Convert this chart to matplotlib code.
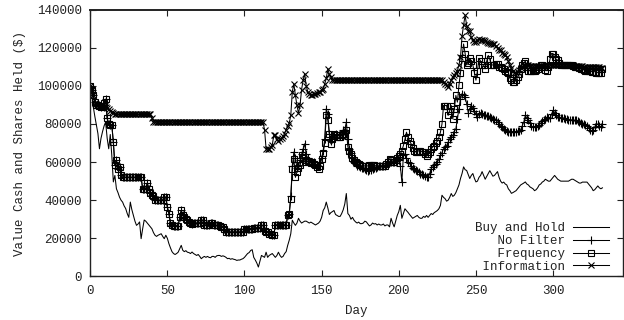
import numpy as np
import matplotlib
matplotlib.use("Agg")
import matplotlib.pyplot as plt

# Values in thousands of dollars, one per trading day (day 0 .. 332)
buy_and_hold = [
    100, 96, 89, 84, 79.5, 75, 67, 72.5, 76, 79,
    81, 72.5, 67, 74.5, 63.5, 49.6, 53, 46, 44, 41.6,
    40, 39, 37, 35.6, 33, 31, 39, 35, 32, 29,
    26.8, 27.5, 28.6, 19.8, 25, 29.6, 29, 28, 27, 26,
    25, 23, 21.6, 21, 21.6, 22, 22.4, 21, 19.8, 21.6,
    20, 17.2, 15, 13, 12, 11.5, 12, 12.7, 14.5, 16.3,
    13.7, 13, 13.5, 12.7, 12.5, 12, 12.8, 12, 11.5, 11,
    11.5, 10.5, 9.3, 10, 10.5, 10, 10.5, 10, 9.8, 10.5,
    10.5, 10, 10.8, 11, 11, 10.5, 10.8, 10.5, 10, 9.3,
    9.5, 9, 9.3, 9, 8.8, 8.4, 8.6, 8.6, 9, 9.3,
    10, 11, 12, 12.5, 13.6, 14, 10, 8.6, 7, 4.9,
    8, 11, 10.5, 10, 12.7, 10, 11, 11.5, 12, 11,
    10, 11, 12.7, 11, 10, 10.5, 12, 13, 16.3, 19,
    22.4, 29.5, 28, 26.8, 28, 30.5, 29, 28, 28.5, 29,
    29, 28.5, 28, 28.5, 28, 27.5, 27, 27.5, 28, 29,
    31, 34.6, 36, 39, 36, 32.5, 33.5, 34, 34.6, 32.5,
    32, 31.5, 31.5, 33, 35, 38, 43.5, 33, 32, 30,
    31, 29.5, 28.6, 28, 28.5, 27.7, 27.7, 28, 29, 28.6,
    27.5, 26.5, 27, 28, 27.5, 27.7, 27, 27.5, 27, 27,
    27.5, 26.5, 27, 27, 26, 30.5, 28, 26, 29, 32,
    34, 37.3, 30.5, 33, 35.5, 34.5, 33.6, 32.5, 31.5, 30.5,
    31, 31.5, 32, 31, 30.5, 30.5, 31.5, 31, 32, 31,
    32, 33, 32.5, 33.5, 34, 34.6, 35.5, 37.3, 42.6, 41.5,
    40.8, 39.5, 40, 41.5, 43.5, 42, 42.6, 44, 46, 48,
    51.4, 54, 57.5, 56, 55.6, 53.5, 51.4, 53, 54, 51.5,
    49.6, 50, 52, 53, 55, 53, 51, 52.5, 54, 55.5,
    54, 52.6, 53, 54, 55, 52, 50, 49, 49.5, 48.5,
    48, 46, 45, 43.6, 44, 44.5, 45, 46, 47, 48,
    48.5, 49, 49.6, 48.5, 48, 47, 46.5, 46, 45, 45.5,
    46.5, 48, 48.5, 49.5, 50, 51, 50.5, 50, 50, 51,
    52, 53, 52, 51, 50.5, 50, 50, 50, 50, 50,
    50, 50.5, 51, 51, 50.5, 50, 49.5, 49, 49, 49.5,
    49.5, 49.5, 49.5, 48.5, 47.5, 46.5, 45, 45.5, 46.5, 47.5,
    46.5, 46, 46.5,
]

no_filter = [
    100, 98, 95, 91.5, 90, 90, 89.5, 89, 89.5, 91,
    93, 83, 80, 79.5, 79.5, 70.5, 58.3, 61, 56.5, 57.5,
    53, 52, 52, 52, 52, 52, 52, 52, 52, 52,
    52, 52, 52, 52, 46, 46, 46, 49, 46, 44,
    42.5, 42, 40, 40, 40, 40, 40, 40, 41.6, 41.6,
    36.4, 33, 28, 26.8, 26.5, 26.5, 26.5, 26.5, 31, 34.6,
    32, 31, 30, 29.5, 28.5, 28, 27.7, 28, 28, 28,
    28, 28, 29.5, 29.5, 27, 27, 27, 27, 28, 28,
    27, 27, 26.8, 26.8, 26.5, 26, 26, 25, 23.3, 23.3,
    23.3, 23.3, 23.3, 23.3, 23.3, 23.3, 23.3, 23.3, 23.3, 23.3,
    25, 25, 25, 25, 25, 25, 25.5, 25.5, 25.5, 25.5,
    25.5, 26.8, 26.8, 24, 23.3, 23.3, 22.4, 22.4, 21.6, 21.6,
    27, 27, 27, 27, 27, 27, 27, 27, 32, 33,
    42, 58, 65.3, 62, 57, 58, 61, 64, 67, 69.6,
    64, 62, 60.5, 60, 60, 60, 59, 58.5, 58, 60,
    62, 66, 72, 88, 85, 75, 71, 72, 74, 74.5,
    74, 74, 74, 75, 77, 77, 81, 72, 67, 65,
    62, 60, 59, 58, 58, 57.5, 57, 57, 56.5, 56,
    55.5, 55.6, 56, 56.5, 57, 57, 57.5, 58, 58, 58,
    58, 58, 58.5, 59, 60, 60, 60, 60, 61, 62,
    61, 58, 49.6, 63.5, 64.4, 62, 60, 59.3, 58, 57,
    56.6, 56, 55.5, 55, 54, 53.5, 53, 52.5, 52, 52,
    54, 56.6, 57.5, 58.3, 59, 60, 61.5, 63.5, 65, 67,
    68, 68.7, 70.5, 72.3, 73, 74, 76, 77.5, 82.8, 88,
    93.3, 96, 95, 94, 90.7, 86, 88, 89.7, 88.5, 87,
    85, 83.6, 85.5, 86, 85, 84.5, 84.5, 84, 84, 83.6,
    83, 82.5, 82, 82, 81, 80, 79, 78.4, 77.5, 77,
    76.5, 76, 75.8, 76, 76, 76, 76, 76.2, 76.5, 77,
    79, 81, 84.5, 83, 82, 80.5, 79, 78.4, 78.4, 78.5,
    79, 79.5, 80.5, 81.5, 82, 82.5, 83.6, 83, 83, 85,
    87.2, 86, 84.5, 83.6, 83.5, 83, 83, 83, 82.5, 82.5,
    82, 82, 82, 82, 82, 82, 81.5, 81, 80.5, 80,
    80, 79.5, 79, 78, 77, 76.3, 77, 78.5, 80, 80,
    79, 78.4, 80,
]

frequency = [
    100, 98, 95, 91.5, 90, 90, 89.5, 89, 89.5, 91,
    93, 83, 80, 79.5, 79.5, 70.5, 58.3, 61, 56.5, 57.5,
    53, 52, 52, 52, 52, 52, 52, 52, 52, 52,
    52, 52, 52, 52, 46, 46, 46, 49, 46, 44,
    42.5, 42, 40, 40, 40, 40, 40, 40, 41.6, 41.6,
    36.4, 33, 28, 26.8, 26.5, 26.5, 26.5, 26.5, 31, 34.6,
    32, 31, 30, 29.5, 28.5, 28, 27.7, 28, 28, 28,
    28, 28, 29.5, 29.5, 27, 27, 27, 27, 28, 28,
    27, 27, 26.8, 26.8, 26.5, 26, 26, 25, 23.3, 23.3,
    23.3, 23.3, 23.3, 23.3, 23.3, 23.3, 23.3, 23.3, 23.3, 23.3,
    25, 25, 25, 25, 25, 25, 25.5, 25.5, 25.5, 25.5,
    25.5, 26.8, 26.8, 24, 23.3, 23.3, 22.4, 22.4, 21.6, 21.6,
    27, 27, 27, 27, 27, 27, 27, 27, 32, 33,
    40.8, 56.6, 61.8, 52, 55, 57, 58.3, 63.5, 62, 60,
    61, 60.5, 60, 59.5, 60, 59, 58.5, 57.5, 56.6, 58,
    61.8, 65, 70, 84.5, 82, 75, 69.6, 72, 75, 74,
    73, 73, 73, 74, 75, 75, 77, 68, 66, 64.4,
    62, 61, 60, 59.5, 59, 58.5, 58, 58, 58, 58,
    58, 58.5, 58.5, 58.5, 58.5, 58, 58, 58, 58, 58,
    58, 58, 59, 60, 61.8, 61, 60, 60, 61, 62,
    63, 64.4, 66, 68.7, 72, 75.7, 73, 71, 69.6, 67.5,
    66, 65.3, 65.5, 66, 66, 65.5, 65.3, 64, 63, 64,
    65.3, 67, 68, 68.7, 70, 71, 73, 75.7, 80, 89.7,
    89.7, 89.7, 84.5, 87, 89.7, 82.7, 88, 95, 91.5, 100.3,
    107, 114.5, 122, 117, 111, 112, 114.5, 113, 111, 107,
    103, 108, 114.5, 113, 111, 111, 109, 113, 116, 114,
    111, 111, 111, 111.5, 111.5, 110, 110, 109.5, 109, 108,
    107.5, 107, 104, 103, 102, 102, 103, 104.6, 106, 109,
    111, 112, 113, 110, 108, 108, 108, 108, 108, 108.5,
    109, 110, 111, 111, 110, 108.5, 108, 110, 114, 117,
    117, 115, 114, 113.5, 112, 111, 111, 111, 111, 111,
    111, 111, 111, 110.5, 110, 110, 110, 109.5, 109, 109,
    108.5, 108, 108, 108, 108, 107.5, 107.5, 107.5, 107, 107,
    107, 107, 109,
]

information = [
    100, 98, 95, 91, 90.5, 90, 89.5, 89, 89, 89.5,
    89, 88.5, 88, 87, 86.4, 86, 85, 85, 85, 85,
    85, 85, 85, 85, 85, 85, 85, 85, 85, 85,
    85, 85, 85, 85, 85, 85, 85, 85, 85, 85,
    83, 81, 81, 81, 81, 81, 81, 81, 81, 81,
    81, 81, 81, 81, 81, 81, 81, 81, 81, 81,
    81, 81, 81, 81, 81, 81, 81, 81, 81, 81,
    81, 81, 81, 81, 81, 81, 81, 81, 81, 81,
    81, 81, 81, 81, 81, 81, 81, 81, 81, 81,
    81, 81, 81, 81, 81, 81, 81, 81, 81, 81,
    81, 81, 81, 81, 81, 81, 81, 81, 81, 81,
    81, 81, 81, 77, 67, 67, 67, 68, 69, 74,
    74, 72, 71, 72, 72.6, 73.5, 75, 77, 79, 80.5,
    84.5, 97, 101, 95, 89.8, 85.6, 89.8, 98, 103, 106.5,
    100, 97, 95.9, 95, 95, 95.5, 96, 96.5, 97, 97,
    98, 98.5, 101, 104, 109, 106, 104.6, 103, 103, 103,
    103, 103, 103, 103, 103, 103, 103, 103, 103, 103,
    103, 103, 103, 103, 103, 103, 103, 103, 103, 103,
    103, 103, 103, 103, 103, 103, 103, 103, 103, 103,
    103, 103, 103, 103, 103, 103, 103, 103, 103, 103,
    103, 103, 103, 103, 103, 103, 103, 103, 103, 103,
    103, 103, 103, 103, 103, 103, 103, 103, 103, 103,
    103, 103, 103, 103, 103, 103, 103, 103, 103, 102,
    101, 100.4, 99.5, 101, 103, 104.5, 105.7, 107, 108, 111,
    115, 126, 132, 137, 131.7, 129, 129, 125.5, 124, 123,
    123, 124, 124.6, 124, 124, 124, 123.5, 123, 122.5, 122.5,
    122, 122, 122, 121, 120, 119, 118.6, 117.5, 116.8, 116,
    115.3, 113, 110.8, 109.5, 108, 107, 107, 107.5, 108.5, 109.5,
    110, 110.5, 111, 111, 111, 110.5, 110.5, 110.5, 110.5, 110.5,
    110.5, 110.5, 110.5, 110.5, 110.5, 111, 111, 111, 111, 111,
    111, 111, 111, 111, 111, 111, 111, 111, 111, 111,
    111, 111, 111, 111, 110.5, 110.5, 110.5, 110.5, 110.5, 110.5,
    110, 110, 110, 110, 110, 110, 110, 110, 110, 110,
    110, 109.5, 109.5,
]

series_labels = ["Buy and Hold", "No Filter", "Frequency", "Information"]
x_ticks = [0, 50, 100, 150, 200, 250, 300]
y_ticks = [0, 20000, 40000, 60000, 80000, 100000, 120000, 140000]

FONT = "Liberation Mono"
plt.rcParams["font.family"] = [FONT, "DejaVu Sans"]
plt.rcParams["font.size"] = 9

fig = plt.figure(figsize=(6.24, 3.20), dpi=100)
ax = fig.add_axes([90.2 / 624, 1 - 276.4 / 320, (622.5 - 90.2) / 624, (276.4 - 9.7) / 320])

days = np.arange(len(buy_and_hold))
scale = 1000.0
lw = 0.75
ax.plot(days, np.array(buy_and_hold) * scale, color="black", lw=lw, label=series_labels[0])
ax.plot(np.arange(len(no_filter)), np.array(no_filter) * scale, color="black", lw=lw,
        marker="+", ms=5.5, mew=0.8, label=series_labels[1])
ax.plot(np.arange(len(frequency)), np.array(frequency) * scale, color="black", lw=lw,
        marker="s", ms=4.8, mew=0.8, mfc="none", label=series_labels[2])
ax.plot(np.arange(len(information)), np.array(information) * scale, color="black", lw=lw,
        marker="x", ms=4.5, mew=0.8, label=series_labels[3])

ax.set_xlim(0, 345)
ax.set_ylim(0, 140000)
ax.set_xticks(x_ticks)
ax.set_yticks(y_ticks)
ax.tick_params(direction="in", length=4, width=0.8, top=True, right=True,
               labelsize=9, pad=6, colors="#222222")
for s in ax.spines.values():
    s.set_linewidth(1.0)
    s.set_color("#222222")
ax.spines["top"].set_linewidth(1.4)

ax.set_xlabel("Day", fontsize=9, labelpad=6, color="#222222")
ax.set_ylabel("Value Cash and Shares Held ($)", fontsize=9, labelpad=8, color="#222222")

width = max(len(l) for l in series_labels)
padded = [l.rjust(width) for l in series_labels]
handles = ax.get_lines()
leg = ax.legend(handles, padded, loc="lower right", bbox_to_anchor=(0.975, 0.014),
                frameon=False, markerfirst=False, numpoints=1, handlelength=2.9,
                handletextpad=0.6, labelspacing=0.06, borderpad=0, borderaxespad=0,
                prop={"family": FONT, "size": 9})
for t in leg.get_texts():
    t.set_color("#222222")

fig.savefig("out.png", dpi=100)
